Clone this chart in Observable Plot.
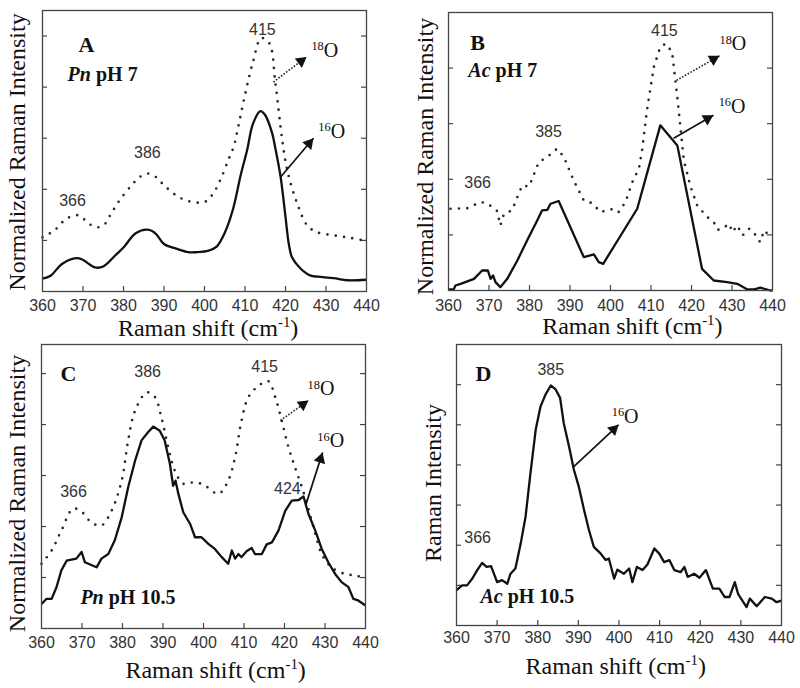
<!DOCTYPE html>
<html><head><meta charset="utf-8">
<script src="https://cdn.jsdelivr.net/npm/d3@7"></script>
<script src="https://cdn.jsdelivr.net/npm/@observablehq/plot@0.6"></script>
<style>
body{margin:0;background:#fff;}
#wrap{position:relative;width:800px;height:688px;overflow:hidden;}
.panel{position:absolute;}
.panel svg{overflow:visible;}
</style></head><body><div id="wrap"></div>
<script>
// ---------- data ----------
const X_TICKS = [360,370,380,390,400,410,420,430,440];
const X_TITLE = "Raman shift (cm^{-1})";
const Y_TITLE_NORM = "Normalized Raman Intensity";
const Y_TITLE_RAW = "Raman Intensity";

// Panel A: Pn pH 7
const A_x16 = [360,362,365,369,373,375,378,380,383,386,388,390,393,396,398,401,403,405,407,409,410.5,412,413.8,415,416.7,417.5,418.8,420,420.8,421.6,423.7,426.2,428,431.9,435.2,440];
const A_y16 = [0.25,0.31,0.55,0.65,0.47,0.49,0.71,0.86,1.14,1.21,1.13,0.93,0.84,0.77,0.77,0.8,0.88,1.15,1.6,2.3,2.76,3.29,3.53,3.45,3.1,2.8,2.24,1.46,0.94,0.67,0.45,0.31,0.29,0.26,0.22,0.23];
const A_x18 = [360,363,366,369,371,373,375,377,379,382,384,386,388,390,393,396,400,402,404,406,407.2,408,410,412,414,416,417.5,419.2,420.5,422.9,425.4,427.8,431.9,436,440];
const A_y18 = [1.06,1.2,1.43,1.49,1.36,1.26,1.29,1.53,1.78,2.08,2.24,2.31,2.24,2.08,1.88,1.77,1.75,1.9,2.2,2.6,2.83,3.1,3.85,4.5,4.96,4.86,4.08,2.96,2.35,1.72,1.29,1.16,1.1,1.05,0.99];

// Panel B: Ac pH 7
const B_x16 = [360,361.3,361.7,363,366.3,368.3,369.7,370.4,371,371.6,372.8,374.5,377,379.4,381.9,383.1,384.4,385.2,387.2,393.4,395.9,397.1,398.2,406.6,412.3,416.5,422.6,425.5,428.8,431.3,433.8,435.5,437,439.5,440];
const B_y16 = [0.02,0.02,0.09,0.12,0.21,0.36,0.36,0.21,0.27,0.15,0.06,0.21,0.54,0.9,1.26,1.44,1.45,1.56,1.61,0.6,0.65,0.51,0.48,1.47,2.97,2.61,0.39,0.18,0.15,0.12,0.02,0.02,0.05,0.0,0.0];
const B_x18 = [360.5,364.6,367.9,369.5,372,372.8,373.7,375.7,377,378.2,379.9,382.3,384.4,386.8,388.5,390.9,393.4,395.5,397.5,400.8,402,403.7,405.4,407,407.8,409,410.7,412.3,413.6,415.2,416.5,418.1,419.8,421.4,423.9,425.5,426.4,427.6,429.3,430.1,431.3,432.6,434.2,435.4,436.2,437,437.9,439.5];
const B_y18 = [1.47,1.48,1.59,1.57,1.43,1.17,1.38,1.44,1.68,1.89,1.87,2.31,2.4,2.55,2.4,1.98,1.62,1.57,1.41,1.47,1.41,1.59,1.95,2.19,2.52,3.24,4.02,4.38,4.44,4.29,3.48,2.34,1.86,1.53,1.32,1.23,1.09,1.11,1.2,1.05,1.17,0.99,1.11,1.05,0.93,0.87,1.08,0.97];

// Panel C: Pn pH 10.5
const C_x16 = [360,361.2,362.5,363.7,364.9,366.2,368.6,369.9,370.7,373.6,374.8,376.5,378.1,379.8,381.4,383.1,384.7,386.3,387.6,389.2,390.4,391.7,392.5,393.1,393.8,395,396.7,397.9,399.5,401.2,402.8,404.5,406.1,407,407.8,408.6,409.4,410.7,411.9,412.7,414.4,415.6,416.9,418.5,420.2,421.8,423.5,424.7,425.9,427.6,429.2,430.8,432.5,434.1,435.8,437,438.2,440];
const C_y16 = [0.48,0.58,0.58,0.81,1.14,1.33,1.37,1.5,1.3,1.2,1.37,1.46,1.73,2.18,2.77,3.29,3.69,3.85,3.96,3.88,3.69,3.23,2.8,2.9,2.64,2.28,2.05,1.79,1.79,1.66,1.56,1.4,1.27,1.53,1.37,1.46,1.4,1.52,1.58,1.46,1.46,1.65,1.69,1.92,2.31,2.51,2.52,2.59,2.25,1.92,1.56,1.3,1.07,0.91,0.81,0.58,0.55,0.45];
const C_x18 = [360,362.5,364.9,367.8,369.9,372.3,374.8,377.3,379.8,381.4,383.1,386,388,389.6,391.3,392.9,395,397.9,400.4,403.7,406.1,407.8,409.4,411.1,413.6,416,417.7,419.3,421,422.6,424.3,425.9,427.6,429.2,431.6,434.9,437.4,440];
const C_y18 = [1.27,1.53,1.92,2.35,2.29,2.08,2.02,2.31,2.9,3.69,4.27,4.63,4.54,4.14,3.55,3.1,2.84,2.87,2.8,2.64,2.9,3.36,4.08,4.54,4.76,4.85,4.54,4.08,3.55,3.16,2.77,2.35,1.86,1.46,1.2,1.07,1.04,0.99];

// Panel D: Ac pH 10.5
const D_x16 = [360,361.4,362.6,363.9,365.1,366.3,367.4,368.5,370,371.2,372.5,373.3,374.5,375.8,377,378.2,379.5,380.7,381.9,383.2,384.4,385.5,386.4,387.7,388.9,390.1,391.4,392.6,393.8,395.5,396.7,397.5,398.8,399.6,401.2,402.5,403.3,404.4,405.8,407,408.7,409.9,411.1,412.4,413.6,415.2,416.1,416.9,418.5,419.8,421.4,423.1,424.7,426,427.2,428.5,429.3,430.6,431.4,432.2,433.9,435.9,437.6,438.8,440];
const D_y16 = [0.88,1.0,1.0,1.17,1.38,1.56,1.46,1.48,1.08,1.13,1.04,1.29,1.42,2.04,2.71,3.79,4.88,5.46,5.75,5.98,5.88,5.67,5.04,4.46,3.88,3.46,2.88,2.38,1.96,1.79,1.63,1.67,1.17,1.39,1.29,1.42,1.08,1.46,1.38,1.52,1.92,1.79,1.58,1.63,1.38,1.33,1.46,1.21,1.29,1.19,1.38,0.92,0.92,0.71,0.71,1.08,0.79,0.58,0.46,0.67,0.48,0.71,0.67,0.58,0.62];

// Annotations (data coordinates)
const A_labels = [
  {x:368.9, y:4.69, t:"A", k:"panel"},
  {x:366.2, y:4.12, t:"*Pn* pH 7", k:"cond"},
  {x:367.4, y:1.67, t:"366", k:"peak"},
  {x:385.9, y:2.61, t:"386", k:"peak"},
  {x:414.3, y:5.02, t:"415", k:"peak"},
  {x:426.4, y:4.59, t:"^{18}O", k:"iso"},
  {x:428.1, y:3.0, t:"^{16}O", k:"iso"}
];
const B_labels = [
  {x:365.4, y:4.32, t:"B", k:"panel"},
  {x:364.9, y:3.84, t:"*Ac* pH 7", k:"cond"},
  {x:367.2, y:1.85, t:"366", k:"peak"},
  {x:384.7, y:2.76, t:"385", k:"peak"},
  {x:413.3, y:4.58, t:"415", k:"peak"},
  {x:426.9, y:4.32, t:"^{18}O", k:"iso"},
  {x:426.7, y:3.19, t:"^{16}O", k:"iso"}
];
const C_labels = [
  {x:364.7, y:4.86, t:"C", k:"panel"},
  {x:386.2, y:4.94, t:"386", k:"peak"},
  {x:415.1, y:5.04, t:"415", k:"peak"},
  {x:367.9, y:2.57, t:"366", k:"peak"},
  {x:420.7, y:2.63, t:"424", k:"peak"},
  {x:369.6, y:0.49, t:"*Pn* pH 10.5", k:"cond"},
  {x:425.7, y:4.57, t:"^{18}O", k:"iso"},
  {x:428.1, y:3.55, t:"^{16}O", k:"iso"}
];
const D_labels = [
  {x:364.7, y:6.1, t:"D", k:"panel"},
  {x:383.2, y:6.23, t:"385", k:"peak"},
  {x:365.2, y:2.05, t:"366", k:"peak"},
  {x:365.9, y:0.55, t:"*Ac* pH 10.5", k:"cond"},
  {x:398.2, y:5.05, t:"^{16}O", k:"iso"}
];
const A_arrows = [
  {x1:417.0, y1:4.10, x2:425.2, y2:4.59, dotted:true},
  {x1:418.8, y1:2.24, x2:426.9, y2:3.0, dotted:false}
];
const B_arrows = [
  {x1:416.3, y1:3.78, x2:426.9, y2:4.22, dotted:true},
  {x1:415.6, y1:2.74, x2:425.4, y2:3.15, dotted:false}
];
const C_arrows = [
  {x1:419.0, y1:4.08, x2:425.9, y2:4.47, dotted:true},
  {x1:425.2, y1:2.41, x2:429.4, y2:3.45, dotted:false}
];
const D_arrows = [
  {x1:388.8, y1:3.95, x2:399.9, y2:5.0, dotted:false}
];

// ---------- drawing ----------
const SERIF = "'Liberation Serif','Times New Roman',Times,serif";
const SANS = "'Liberation Sans',Arial,Helvetica,sans-serif";
const FRAME = "#444";
const HEAD_R = 4.4;

const panels = [
  {left:0, top:0, width:400, height:340, ml:42, mr:34, mt:10, mb:49, ymax:5.5, yTicks:[1,2,3,4,5], tickPad:8,
   series:[{x:A_x18, y:A_y18, dotted:true, curve:"catmull-rom"},{x:A_x16, y:A_y16, dotted:false, curve:"catmull-rom"}],
   labels:A_labels, arrows:A_arrows, yTitle:Y_TITLE_NORM, yDx:-25, yDy:1, xTitleX:400.9, xDy:44},
  {left:400, top:0, width:400, height:340, ml:48, mr:28, mt:12, mb:50, ymax:5.0, yTicks:[1,2,3,4], tickPad:9,
   series:[{x:B_x18, y:B_y18, dotted:true, curve:"linear"},{x:B_x16, y:B_y16, dotted:false, curve:"linear"}],
   labels:B_labels, arrows:B_arrows, yTitle:Y_TITLE_NORM, yDx:-23, yDy:5, xTitleX:405.4, xDy:43},
  {left:0, top:340, width:400, height:348, ml:41, mr:35, mt:4, mb:60, ymax:5.57, yTicks:[1,2,3,4,5], tickPad:8,
   series:[{x:C_x18, y:C_y18, dotted:true, curve:"catmull-rom"},{x:C_x16, y:C_y16, dotted:false, curve:"linear"}],
   labels:C_labels, arrows:C_arrows, yTitle:Y_TITLE_NORM, yDx:-24, yDy:7, xTitleX:403, xDy:49},
  {left:400, top:340, width:400, height:348, ml:56, mr:19, mt:4, mb:63, ymax:7.0, yTicks:[1,2,3,4,5,6], tickPad:6,
   series:[{x:D_x16, y:D_y16, dotted:false, curve:"linear"}],
   labels:D_labels, arrows:D_arrows, yTitle:Y_TITLE_RAW, yDx:-23, yDy:-2, xTitleX:399.2, xDy:48}
];

function headsFor(cfg, fw, fh) {
  const kx = fw / 80, ky = fh / cfg.ymax;
  const half = Math.sqrt(HEAD_R * HEAD_R * Math.PI / (Math.sqrt(3) * 3));
  const back = 2 * half;
  return cfg.arrows.map(a => {
    const dxs = (a.x2 - a.x1) * kx, dys = -(a.y2 - a.y1) * ky;
    const len = Math.hypot(dxs, dys);
    const ux = dxs / len, uy = dys / len;
    return {x: a.x2 - ux * back / kx, y: a.y2 + uy * back / ky, rot: Math.atan2(dxs, -dys) * 180 / Math.PI};
  });
}

function build(cfg) {
  const fw = cfg.width - cfg.ml - cfg.mr, fh = cfg.height - cfg.mt - cfg.mb;
  const marks = [];
  marks.push(Plot.ruleX(X_TICKS.slice(1, -1), {stroke: FRAME, strokeWidth: 1.2, insetTop: fh - 5}));
  marks.push(Plot.ruleY(cfg.yTicks, {stroke: FRAME, strokeWidth: 1.2, insetRight: fw - 5}));
  marks.push(Plot.ruleY(cfg.yTicks, {stroke: FRAME, strokeWidth: 1.2, insetLeft: fw - 5}));
  for (const s of cfg.series) {
    marks.push(Plot.line(d3.zip(s.x, s.y), {
      x: d => d[0], y: d => d[1], curve: s.curve,
      stroke: s.dotted ? "#2a2a2a" : "#111",
      strokeWidth: s.dotted ? 2.7 : 2.3,
      strokeDasharray: s.dotted ? "0 8.4" : null,
      strokeLinecap: s.dotted ? "round" : "butt",
      strokeLinejoin: "round"
    }));
  }
  marks.push(Plot.frame({stroke: FRAME, strokeWidth: 1.3}));
  marks.push(Plot.axisX({ticks: X_TICKS, tickSize: 0, tickPadding: cfg.tickPad, fontSize: 16, fontFamily: SANS, color: "#333", label: null}));
  const dots = cfg.arrows.filter(a => a.dotted), sols = cfg.arrows.filter(a => !a.dotted);
  marks.push(Plot.link(dots, {x1: "x1", y1: "y1", x2: "x2", y2: "y2", stroke: "#222", strokeWidth: 1.6, strokeDasharray: "1.6 1.6"}));
  marks.push(Plot.link(sols, {x1: "x1", y1: "y1", x2: "x2", y2: "y2", stroke: "#111", strokeWidth: 1.7}));
  marks.push(Plot.dot(headsFor(cfg, fw, fh), {x: "x", y: "y", r: HEAD_R, symbol: "triangle", fill: "#111", stroke: "none", rotate: "rot"}));
  const L = k => cfg.labels.filter(l => l.k === k);
  marks.push(Plot.text(L("peak"), {x: "x", y: "y", text: "t", fontFamily: SANS, fontSize: 16, fill: "#333", textAnchor: "middle", lineAnchor: "bottom"}));
  marks.push(Plot.text(L("panel"), {x: "x", y: "y", text: "t", fontFamily: SERIF, fontSize: 22, fontWeight: "bold", fill: "#111", textAnchor: "start", lineAnchor: "bottom"}));
  marks.push(Plot.text(L("cond"), {x: "x", y: "y", text: "t", fontFamily: SERIF, fontSize: 20, fontWeight: "bold", fill: "#111", textAnchor: "start", lineAnchor: "bottom"}));
  marks.push(Plot.text(L("iso"), {x: "x", y: "y", text: "t", fontFamily: SERIF, fontSize: 20, fill: "#111", textAnchor: "start", lineAnchor: "bottom"}));
  marks.push(Plot.text([cfg.yTitle], {frameAnchor: "left", text: d => d, rotate: -90, dx: cfg.yDx, dy: cfg.yDy, textAnchor: "middle", lineAnchor: "middle", fontFamily: SERIF, fontSize: 24, fill: "#111"}));
  marks.push(Plot.text([{x: cfg.xTitleX, t: X_TITLE}], {x: "x", text: "t", frameAnchor: "bottom", dy: cfg.xDy, textAnchor: "middle", lineAnchor: "bottom", fontFamily: SERIF, fontSize: 24, fill: "#111"}));
  return Plot.plot({
    width: cfg.width, height: cfg.height,
    marginLeft: cfg.ml, marginRight: cfg.mr, marginTop: cfg.mt, marginBottom: cfg.mb,
    x: {domain: [360, 440]},
    y: {domain: [0, cfg.ymax], axis: null},
    style: {fontFamily: SANS, background: "transparent", overflow: "visible"},
    marks
  });
}

function richify(svg) {
  for (const t of svg.querySelectorAll("text")) {
    const s = t.textContent;
    if (!/\^\{|\*/.test(s)) continue;
    const fs = parseFloat(getComputedStyle(t).fontSize) || 16;
    const parts = s.split(/(\^\{[^}]*\}|\*[^*]+\*)/).filter(p => p !== "");
    t.textContent = "";
    let raised = false;
    for (const p of parts) {
      const ts = document.createElementNS("http://www.w3.org/2000/svg", "tspan");
      if (p.startsWith("^{")) {
        ts.textContent = p.slice(2, -1);
        ts.setAttribute("font-size", (fs * 0.62).toFixed(1));
        ts.setAttribute("dy", (-fs * 0.34).toFixed(1));
        raised = true;
      } else {
        if (p.startsWith("*")) { ts.textContent = p.slice(1, -1); ts.setAttribute("font-style", "italic"); }
        else ts.textContent = p;
        if (raised) { ts.setAttribute("dy", (fs * 0.34).toFixed(1)); raised = false; }
      }
      t.appendChild(ts);
    }
  }
}

const wrap = document.getElementById("wrap");
for (const cfg of panels) {
  const div = document.createElement("div");
  div.className = "panel";
  div.style.left = cfg.left + "px";
  div.style.top = cfg.top + "px";
  const svg = build(cfg);
  div.appendChild(svg);
  wrap.appendChild(div);
  richify(svg);
}
</script>
</body></html>
